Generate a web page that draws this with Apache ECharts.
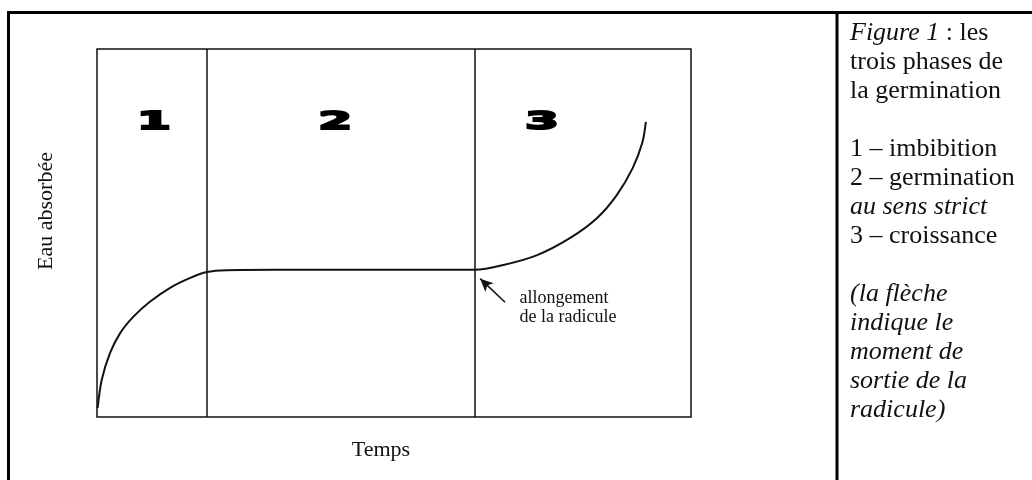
<!DOCTYPE html>
<html>
<head>
<meta charset="utf-8">
<script src="https://cdn.jsdelivr.net/npm/echarts@6/dist/echarts.min.js"></script>
<style>
  html, body { margin: 0; padding: 0; background: #fff; }
  #germination { width: 1032px; height: 480px; }
</style>
</head>
<body>
<div id="germination"></div>
<script>
// limites des phases (temps, unites arbitraires 0..100)
var phaseBounds = [18.4, 63.6];
var phaseLabels = ['1', '2', '3'];
var phaseLabelX = [9.6, 40.1, 74.9];
var phaseLabelY = 80;

// courbe d'eau absorbee
var curveX = [0.1, 0.8, 2.2, 3.9, 6.1, 8.9, 12.3, 15.7, 18.5, 21.8, 30, 45, 63.6,
              68.4, 74.1, 79.6, 84.2, 87.5, 90.2, 91.8, 92.4];
var curveY = [2.4, 10.1, 17.4, 22.8, 27.2, 31.3, 35.1, 37.8, 39.4, 39.9, 40, 40, 40,
              41.3, 44.0, 48.6, 54.1, 60.3, 67.7, 74.5, 80.2];

// fleche : sortie de la radicule
var arrowFrom = [68.7, 31.2];
var arrowTo = [64.5, 37.6];
var arrowText = 'allongement\nde la radicule';
var arrowTextAt = [71.2, 34.6];

// legende a droite
var legendLines = [
    ['{i|Figure 1} : les', false],
    ['trois phases de', false],
    ['la germination', false],
    ['', false],
    ['1 – imbibition', false],
    ['2 – germination', false],
    ['au sens strict', true],
    ['3 – croissance', false],
    ['', false],
    ['(la flèche', true],
    ['indique le', true],
    ['moment de', true],
    ['sortie de la', true],
    ['radicule)', true]
];

var serif = '"Liberation Serif", "DejaVu Serif", serif';
var chart = echarts.init(document.getElementById('germination'));

var curveData = [];
for (var i = 0; i < curveX.length; i++) {
    curveData.push([curveX[i], curveY[i]]);
}

var option = {
    animation: false,
    backgroundColor: '#fff',
    grid: {
        left: 97,
        top: 49,
        width: 594,
        height: 368,
        show: true,
        borderColor: '#111',
        borderWidth: 1.5,
        backgroundColor: 'transparent'
    },
    xAxis: {
        type: 'value',
        min: 0,
        max: 100,
        axisLine: { show: false },
        axisTick: { show: false },
        axisLabel: { show: false },
        splitLine: { show: false },
        name: 'Temps',
        nameLocation: 'middle',
        nameGap: 22,
        nameTextStyle: {
            fontFamily: serif,
            fontSize: 22,
            color: '#111',
            padding: [0, 26, 0, 0]
        }
    },
    yAxis: {
        type: 'value',
        min: 0,
        max: 100,
        axisLine: { show: false },
        axisTick: { show: false },
        axisLabel: { show: false },
        splitLine: { show: false },
        name: 'Eau absorbée',
        nameLocation: 'middle',
        nameGap: 40,
        nameTextStyle: {
            fontFamily: serif,
            fontSize: 22,
            color: '#111',
            padding: [0, 0, 0, 44]
        }
    },
    series: [{
        type: 'line',
        data: curveData,
        smooth: 0.3,
        showSymbol: false,
        lineStyle: { color: '#111', width: 2 },
        markLine: {
            silent: true,
            symbol: ['none', 'none'],
            label: { show: false },
            lineStyle: { color: '#111', width: 1.5, type: 'solid' },
            data: [
                { xAxis: phaseBounds[0] },
                { xAxis: phaseBounds[1] },
                [
                    { coord: arrowFrom, symbol: 'none' },
                    { coord: arrowTo, symbol: 'arrow', symbolSize: [9, 13] }
                ]
            ]
        },
        markPoint: {
            silent: true,
            symbol: 'circle',
            symbolSize: 1,
            itemStyle: { color: 'rgba(0,0,0,0)' },
            data: [{
                coord: arrowTextAt,
                label: {
                    show: true,
                    formatter: arrowText,
                    position: [0, 0],
                    align: 'left',
                    verticalAlign: 'top',
                    fontFamily: serif,
                    fontSize: 18,
                    lineHeight: 19,
                    color: '#111'
                }
            }]
        }
    }]
};
chart.setOption(option);

// cadre, separation et textes (positions des chiffres via les axes)
var graphics = [
    {
        type: 'rect',
        shape: { x: 8.5, y: 12.5, width: 1200, height: 600 },
        style: { fill: 'none', stroke: '#000', lineWidth: 3 }
    },
    {
        type: 'line',
        shape: { x1: 837, y1: 12, x2: 837, y2: 480 },
        style: { stroke: '#000', lineWidth: 3 }
    }
];

for (var k = 0; k < phaseLabels.length; k++) {
    var p = chart.convertToPixel({ gridIndex: 0 }, [phaseLabelX[k], phaseLabelY]);
    graphics.push({
        type: 'text',
        x: p[0],
        y: p[1],
        scaleX: 2.0,
        style: {
            text: phaseLabels[k],
            align: 'center',
            verticalAlign: 'middle',
            fontFamily: '"DejaVu Sans", sans-serif',
            fontWeight: 'bold',
            fontSize: 24,
            fill: '#000',
            stroke: '#000',
            lineWidth: 2
        }
    });
}

for (var j = 0; j < legendLines.length; j++) {
    graphics.push({
        type: 'text',
        x: 850,
        y: 20 + j * 29,
        style: {
            text: legendLines[j][0],
            fontFamily: serif,
            fontSize: 26,
            fontStyle: legendLines[j][1] ? 'italic' : 'normal',
            fill: '#111',
            verticalAlign: 'top',
            rich: {
                i: { fontFamily: serif, fontSize: 26, fontStyle: 'italic', fill: '#111' }
            }
        }
    });
}

chart.setOption({ graphic: graphics });
</script>
</body>
</html>
